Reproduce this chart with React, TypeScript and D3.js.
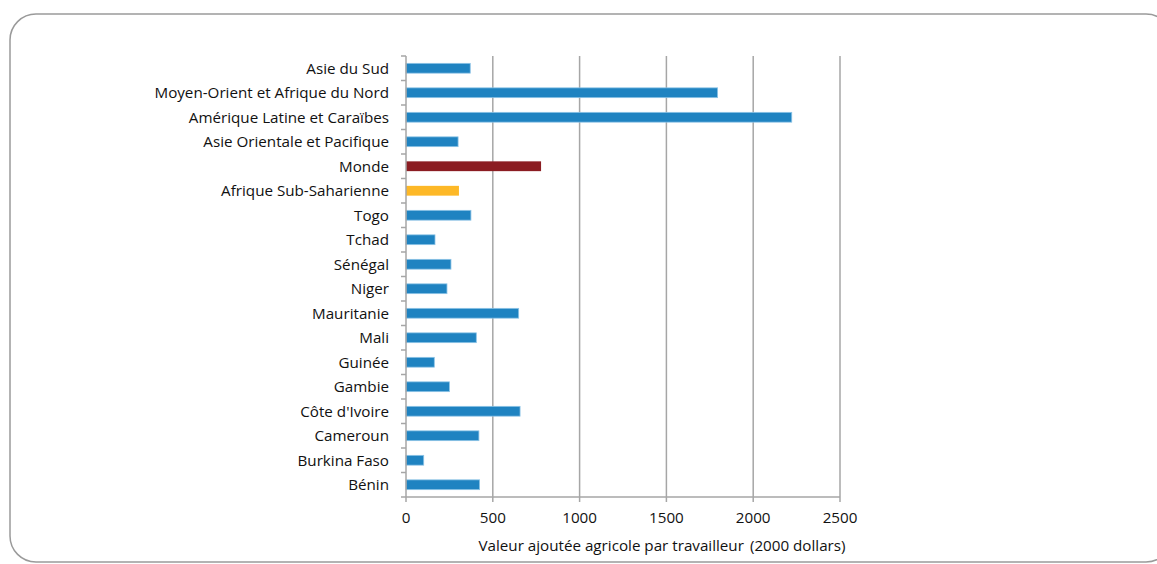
import React, { useEffect, useRef } from 'react';
import * as d3 from 'd3';

const categories = [
  'Asie du Sud',
  'Moyen-Orient et Afrique du Nord',
  'Amérique Latine et Caraïbes',
  'Asie Orientale et Pacifique',
  'Monde',
  'Afrique Sub-Saharienne',
  'Togo',
  'Tchad',
  'Sénégal',
  'Niger',
  'Mauritanie',
  'Mali',
  'Guinée',
  'Gambie',
  "Côte d'Ivoire",
  'Cameroun',
  'Burkina Faso',
  'Bénin',
];

const values = [370, 1795, 2222, 300, 778, 305, 374, 167, 259, 236, 649, 405, 163, 250, 657, 420, 102, 424];

const xTicks = [0, 500, 1000, 1500, 2000, 2500];

const highlight: Record<string, string> = {
  Monde: '#8b1d22',
  'Afrique Sub-Saharienne': '#fdb827',
};

export default function App() {
  const svgRef = useRef<SVGSVGElement>(null);

  useEffect(() => {
    if (!svgRef.current) return;
    const svg = d3.select(svgRef.current);
    svg.selectAll('*').remove();

    const width = 1157;
    const height = 564;
    const left = 406;
    const right = 840;
    const top = 56;
    const bottom = 497;
    const font = "'Open Sans', sans-serif";
    const fs = 15.2;

    // frame
    svg.append('rect')
      .attr('x', 10).attr('y', 14)
      .attr('width', 1162).attr('height', 548)
      .attr('rx', 26).attr('ry', 26)
      .attr('fill', '#fff')
      .attr('stroke', '#9a9a9a')
      .attr('stroke-width', 1.5);

    const x = d3.scaleLinear().domain([0, 2500]).range([left, right]);
    const y = d3.scaleBand().domain(categories).range([top, bottom]).paddingInner(0.6).paddingOuter(0.3);

    // grid lines
    svg.append('g').selectAll('line')
      .data(xTicks.slice(1))
      .enter()
      .append('line')
      .attr('x1', (d: number) => x(d)).attr('x2', (d: number) => x(d))
      .attr('y1', top).attr('y2', bottom)
      .attr('stroke', '#a6a6a6').attr('stroke-width', 1.5);

    // bars
    svg.append('g').selectAll('rect')
      .data(categories)
      .enter()
      .append('rect')
      .attr('x', x(0))
      .attr('y', (d: string) => y(d)!)
      .attr('width', (_d: string, i: number) => x(values[i]) - x(0))
      .attr('height', y.bandwidth())
      .attr('fill', (d: string) => highlight[d] || '#1f83c1')
      .attr('stroke', (d: string) => (highlight[d] ? 'none' : '#8cc3e6'))
      .attr('stroke-width', 0.8);

    // y axis
    const ax = svg.append('g').attr('stroke', '#a6a6a6').attr('stroke-width', 1.5);
    ax.append('line').attr('x1', left).attr('x2', left).attr('y1', top).attr('y2', bottom);
    const step = (bottom - top) / categories.length;
    d3.range(categories.length + 1).forEach((i: number) => {
      ax.append('line')
        .attr('x1', left - 5).attr('x2', left)
        .attr('y1', top + i * step).attr('y2', top + i * step);
    });
    // x axis
    ax.append('line').attr('x1', left).attr('x2', right).attr('y1', bottom).attr('y2', bottom);
    xTicks.forEach((t: number) => {
      ax.append('line').attr('x1', x(t)).attr('x2', x(t)).attr('y1', bottom).attr('y2', bottom + 5);
    });

    // category labels
    svg.append('g').selectAll('text')
      .data(categories)
      .enter()
      .append('text')
      .attr('x', left - 17)
      .attr('y', (d: string) => y(d)! + y.bandwidth() / 2)
      .attr('dy', '0.35em')
      .attr('text-anchor', 'end')
      .attr('font-family', font)
      .attr('font-size', fs)
      .attr('fill', '#111')
      .text((d: string) => d);

    // tick labels
    svg.append('g').selectAll('text')
      .data(xTicks)
      .enter()
      .append('text')
      .attr('x', (d: number) => x(d))
      .attr('y', 518)
      .attr('dy', '0.35em')
      .attr('text-anchor', 'middle')
      .attr('font-family', font)
      .attr('font-size', fs)
      .attr('fill', '#111')
      .text((d: number) => String(d));

    // axis title
    const title = svg.append('text')
      .attr('x', 662)
      .attr('y', 546)
      .attr('dy', '0.35em')
      .attr('text-anchor', 'middle')
      .attr('font-family', font)
      .attr('font-size', fs)
      .attr('fill', '#111');
    title.append('tspan').text('Valeur ajoutée agricole par travailleur');
    title.append('tspan').attr('dx', 6).text('(2000 dollars)');

    svg.attr('width', width).attr('height', height);
  }, []);

  return (
    <svg
      ref={svgRef}
      width={1157}
      height={564}
      style={{ position: 'absolute', left: 0, top: 0, display: 'block' }}
    />
  );
}
